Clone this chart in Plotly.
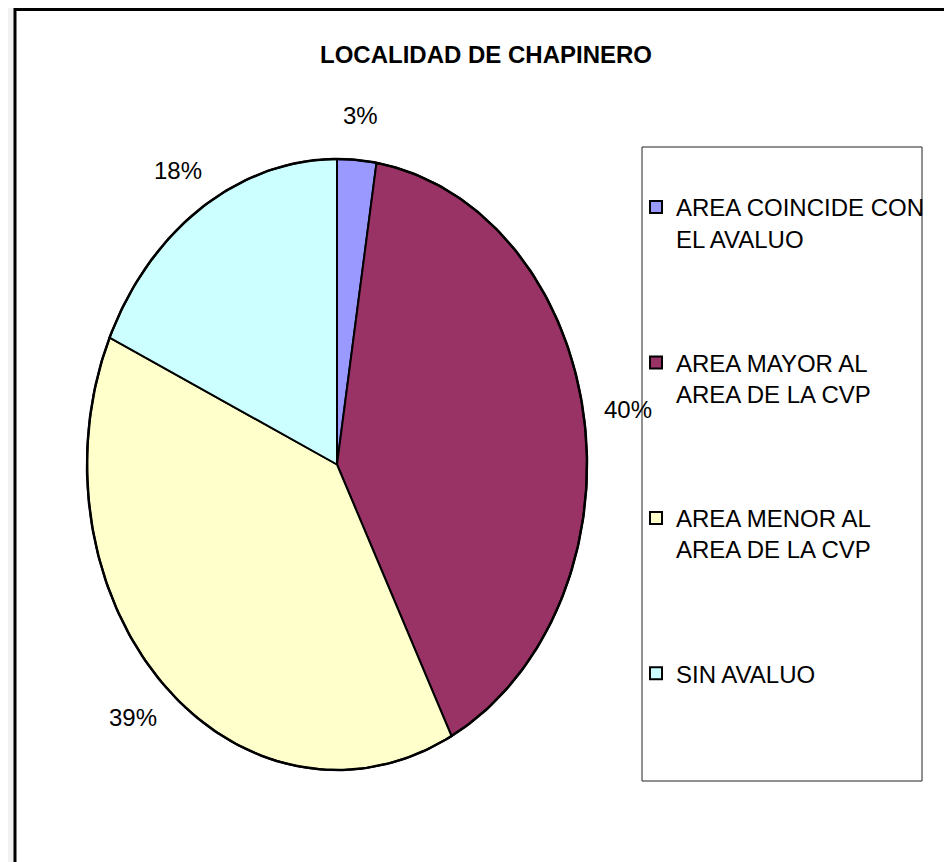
import numpy as np
import plotly.graph_objects as go

# data
categories = ['AREA COINCIDE CON<br>EL AVALUO', 'AREA MAYOR AL<br>AREA DE LA CVP',
              'AREA MENOR AL<br>AREA DE LA CVP', 'SIN AVALUO']
counts = [5, 79, 78, 36]
colors = ['#9999FF', '#993366', '#FFFFCC', '#CCFFFF']
title = 'LOCALIDAD DE CHAPINERO'

# the page body has an 8px margin, so the figure is a bit smaller and
# the axes are offset so that axis units match window pixels
PAD = 8
W, H = 952 - PAD, 862 - PAD
cx, cy = 337, 464.5      # pie centre (axis units = window pixels)
rx, ry = 250, 305.5      # the source image is stretched, so the pie is an ellipse
FONT = 'Liberation Sans, Arial, sans-serif'

shares = np.array(counts) / sum(counts)
edges = np.concatenate([[0], np.cumsum(shares)]) * 2 * np.pi

fig = go.Figure()

# slices, clockwise from 12 o'clock
for i, cat in enumerate(categories):
    t = np.linspace(edges[i], edges[i + 1], 120)
    xs = np.concatenate([[cx], cx + rx * np.sin(t), [cx]])
    ys = np.concatenate([[cy], cy - ry * np.cos(t), [cy]])
    fig.add_trace(go.Scatter(x=xs, y=ys, mode='lines', fill='toself',
                             fillcolor=colors[i], line=dict(color='black', width=2),
                             showlegend=False, hoverinfo='skip'))

# outline
t = np.linspace(0, 2 * np.pi, 400)
fig.add_trace(go.Scatter(x=cx + rx * np.sin(t), y=cy - ry * np.cos(t), mode='lines',
                         line=dict(color='black', width=2.5), showlegend=False,
                         hoverinfo='skip'))

# legend entries
for i, cat in enumerate(categories):
    fig.add_trace(go.Scatter(x=[None], y=[None], mode='markers', name=cat,
                             legendgroup=str(i),
                             marker=dict(symbol='square', size=12, color=colors[i],
                                         line=dict(color='black', width=2))))

# percentage labels outside the slices
mids = (edges[:-1] + edges[1:]) / 2
for s, m in zip(shares, mids):
    px = cx + rx * 1.08 * np.sin(m) + 25 * np.sin(m)
    py = cy - ry * 1.08 * np.cos(m) - 20 * np.cos(m)
    fig.add_annotation(x=px, y=py, text=f'{s * 100:.0f}%', showarrow=False,
                       xanchor='center', yanchor='middle',
                       font=dict(family=FONT, size=24, color='black'))

# chart area frame and legend frame
fig.add_shape(type='rect', x0=15, x1=949.5, y0=9.5, y1=900, layer='below',
              line=dict(color='black', width=3), fillcolor='white')
fig.add_shape(type='rect', x0=642, x1=922, y0=147, y1=781, layer='above',
              line=dict(color='#222222', width=1), fillcolor='rgba(0,0,0,0)')

fig.update_layout(
    width=W, height=H,
    margin=dict(l=0, r=0, t=0, b=0),
    paper_bgcolor='#f2f2f2',
    plot_bgcolor='rgba(0,0,0,0)',
    xaxis=dict(range=[PAD, 952], visible=False, fixedrange=True),
    yaxis=dict(range=[862, PAD], visible=False, fixedrange=True),
    title=dict(text=title, x=(486 - PAD) / W, xanchor='center',
               y=1 - (55 - PAD) / H, yanchor='middle',
               font=dict(family=FONT, size=24, color='black', weight='bold')),
    legend=dict(x=(636 - PAD) / W, xanchor='left', y=1 - (185 - PAD) / H, yanchor='top',
                font=dict(family=FONT, size=24, color='black'),
                valign='top', tracegroupgap=90, bgcolor='rgba(0,0,0,0)',
                borderwidth=0),
    showlegend=True,
)

fig.write_html('out.html')
